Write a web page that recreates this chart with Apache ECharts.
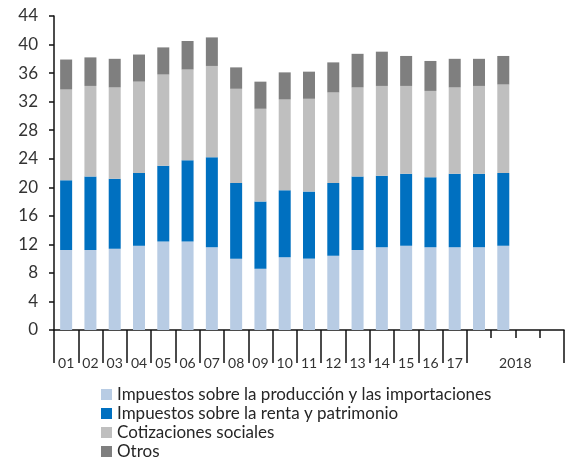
<!DOCTYPE html>
<html>
<head>
<meta charset="utf-8">
<script src="https://cdn.jsdelivr.net/npm/echarts@6/dist/echarts.min.js"></script>
<style>
  html, body { margin: 0; padding: 0; background: #fff; }
  #chart { width: 566px; height: 464px; }
</style>
</head>
<body>
<div id="chart"></div>
<script>
// ejes: 01..17 anuales, luego 2018 en trimestres (4 huecos, 2 con dato)
let categorias = ['01','02','03','04','05','06','07','08','09','10','11','12','13','14','15','16','17','','2018','',''];

let produccion  = [11.2, 11.2, 11.4, 11.8, 12.4, 12.4, 11.6, 10.0, 8.6, 10.2, 10.0, 10.4, 11.2, 11.6, 11.8, 11.6, 11.6, 11.6, 11.8];
let renta       = [9.8, 10.3, 9.8, 10.2, 10.6, 11.4, 12.6, 10.6, 9.4, 9.4, 9.4, 10.2, 10.3, 10.0, 10.1, 9.8, 10.3, 10.3, 10.2];
let cotizaciones= [12.7, 12.7, 12.8, 12.8, 12.8, 12.7, 12.8, 13.2, 13.0, 12.7, 13.0, 12.7, 12.5, 12.6, 12.3, 12.1, 12.1, 12.3, 12.4];
let otros       = [4.2, 4.0, 4.0, 3.8, 3.8, 4.0, 4.0, 3.0, 3.8, 3.8, 3.8, 4.2, 4.7, 4.8, 4.2, 4.2, 4.0, 3.8, 4.0];

let nombres = [
    'Impuestos sobre la producción y las importaciones',
    'Impuestos sobre la renta y patrimonio',
    'Cotizaciones sociales',
    'Otros'
];
let colores = ['#b8cce4', '#0070c0', '#bfbfbf', '#7f7f7f'];

let fuente = 'Lato, "Liberation Sans", sans-serif';

let chart = echarts.init(document.getElementById('chart'));

function serie(idx, datos) {
    return {
        name: nombres[idx],
        type: 'bar',
        stack: 'total',
        xAxisIndex: 0,
        barWidth: 12,
        itemStyle: { color: colores[idx] },
        data: datos
    };
}

let option = {
    animation: false,
    grid: { left: 54, right: 2, top: 16, bottom: 134, containLabel: false },
    legend: {
        orient: 'vertical',
        left: 101,
        top: 386,
        padding: 0,
        height: 78,
        itemWidth: 11,
        itemHeight: 11,
        itemGap: 2,
        icon: 'rect',
        selectedMode: false,
        textStyle: { fontFamily: fuente, fontSize: 17, color: '#262626' },
        data: nombres
    },
    xAxis: [{
        type: 'category',
        data: categorias,
        axisLine: { lineStyle: { color: '#111', width: 1.5 } },
        // ticks largos: limites de cada año (hasta el inicio de 2018) y el final
        axisTick: {
            show: true,
            length: 33,
            interval: function (i) { return i <= 17; },
            lineStyle: { color: '#111', width: 1.5 }
        },
        axisLabel: {
            interval: 0,
            margin: 26,
            fontFamily: fuente,
            fontSize: 14,
            color: '#333',
            formatter: function (v) {
                return v === '2018' ? '{y|' + v + '}' : v;
            },
            rich: { y: { padding: [0, 0, 0, 24], fontFamily: fuente, fontSize: 14, color: '#333' } }
        },
        splitLine: { show: false }
    }, {
        // ticks cortos de los trimestres de 2018
        type: 'category',
        data: categorias,
        position: 'bottom',
        axisLine: { show: false },
        axisTick: {
            show: true,
            length: 8,
            interval: function (i) { return i >= 18; },
            lineStyle: { color: '#111', width: 1.5 }
        },
        axisLabel: { show: false },
        splitLine: { show: false }
    }],
    yAxis: {
        type: 'value',
        min: 0,
        max: 44,
        interval: 4,
        axisLine: { show: true, lineStyle: { color: '#111', width: 1.5 } },
        axisTick: { show: true, length: 5, lineStyle: { color: '#111', width: 1.5 } },
        axisLabel: { margin: 16, fontFamily: fuente, fontSize: 17, color: '#333' },
        splitLine: { show: false }
    },
    series: [
        serie(0, produccion),
        serie(1, renta),
        serie(2, cotizaciones),
        serie(3, otros)
    ]
};

chart.setOption(option);
</script>
</body>
</html>
